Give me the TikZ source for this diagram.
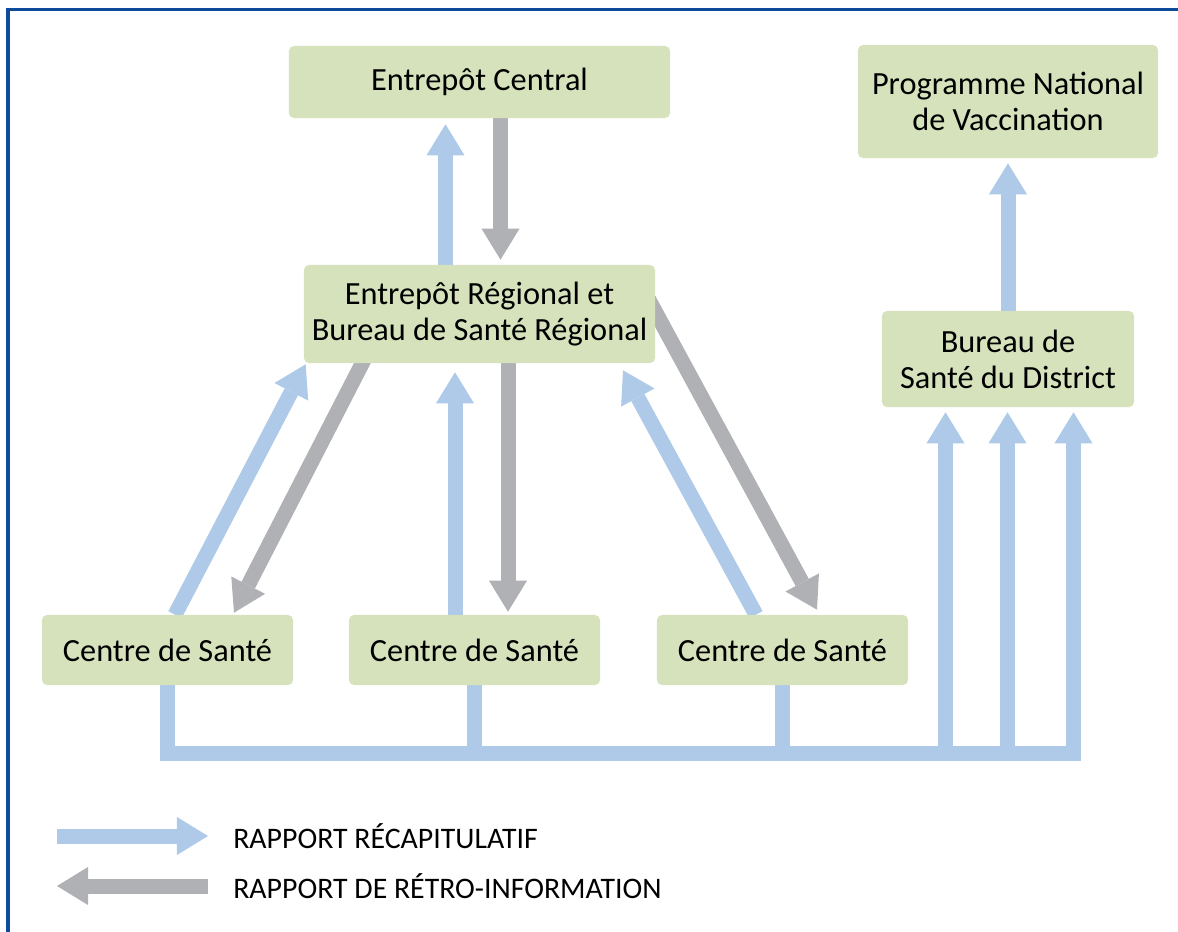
\documentclass[tikz,border=0pt]{standalone}
\usepackage{fontspec}
\setmainfont{Carlito}
\usepackage{tikz}
\usetikzlibrary{arrows.meta,calc,backgrounds}

\definecolor{boxgreen}{RGB}{213,226,188}
\definecolor{recapblue}{RGB}{174,202,232}
\definecolor{retrogray}{RGB}{176,177,181}
\definecolor{framenavy}{RGB}{14,76,155}

\tikzset{
  stagebox/.style={fill=boxgreen, rounded corners=3.6pt, align=center, inner sep=0pt,
    font=\fontsize{23}{25.6}\selectfont},
  legendtext/.style={anchor=west, inner sep=0pt, font=\fontsize{21.2}{24}\selectfont},
  recaparrow/.style={draw=recapblue, line width=0.375cm,
    -{Triangle[width=0.95cm,length=0.775cm,line width=0pt]}},
  retroarrow/.style={draw=retrogray, line width=0.375cm,
    -{Triangle[width=0.95cm,length=0.775cm,line width=0pt]}},
  recapline/.style={draw=recapblue, line width=0.375cm, line join=miter},
}

\begin{document}
\begin{tikzpicture}[x=0.025cm,y=-0.025cm]
\useasboundingbox (0,0) rectangle (1178,932);
\draw[framenavy, line width=0.075cm] (8,932) -- (8,10) -- (1178,10);

% boxes
\node[stagebox, minimum width=9.525cm, minimum height=1.8cm] (ec) at (479.5,82) {Entrepôt Central};
\node[stagebox, minimum width=7.5cm, minimum height=2.825cm] (pnv) at (1008,101.5) {Programme National\\de Vaccination};
\node[stagebox, minimum width=8.775cm, minimum height=2.45cm] (er) at (479.5,314) {Entrepôt Régional et\\Bureau de Santé Régional};
\node[stagebox, minimum width=6.3cm, minimum height=2.4cm] (bsd) at (1008,359) {Bureau de\\Santé du District};
\node[stagebox, minimum width=6.275cm, minimum height=1.75cm] (cs1) at (167.5,650) {Centre de Santé};
\node[stagebox, minimum width=6.275cm, minimum height=1.75cm] (cs2) at (474.5,650) {Centre de Santé};
\node[stagebox, minimum width=6.275cm, minimum height=1.75cm] (cs3) at (782.5,650) {Centre de Santé};

\coordinate (barL) at (166,753);
\coordinate (barR) at (1081,753);
\coordinate (d1) at (945.5,753);
\coordinate (d2) at (1007.5,753);
\coordinate (d3) at (1073.5,753);

\begin{scope}[on background layer]
  % central and regional
  \draw[recaparrow] ($(er.north)+(-34,0)$) -- ($(ec.south)+(-34,6)$);
  \draw[retroarrow] ($(ec.south)+(21,0)$) -- ($(er.north)+(21,-5)$);
  % regional and health centres
  \draw[recaparrow] ($(cs1.north)+(7.5,0)$) -- ($(er.south west)+(2,1)$);
  \draw[retroarrow] ($(er.south)+(-108.5,-17)$) -- ($(cs1.north)+(66.5,-2)$);
  \draw[recaparrow] ($(cs2.north)+(-19.5,0)$) -- ($(er.south)+(-24.5,9)$);
  \draw[retroarrow] ($(er.south)+(28.5,0)$) -- ($(cs2.north)+(33.5,-3)$);
  \draw[recaparrow] ($(cs3.north)+(-26.5,0)$) -- ($(er.south)+(143.5,7)$);
  \draw[retroarrow] ($(er.east)+(-15,-30)$) -- ($(cs3.north)+(34.5,-5)$);
  % district
  \draw[recapline] (cs1.south) |- (barR);
  \draw[recapline] (cs2.south) -- (cs2.south |- barL);
  \draw[recapline] (cs3.south) -- (cs3.south |- barL);
  \draw[recaparrow, shorten >=0.125cm] (d1) -- (d1 |- bsd.south);
  \draw[recaparrow, shorten >=0.125cm] (d2) -- (d2 |- bsd.south);
  \draw[recaparrow, shorten >=0.125cm] (d3) -- (d3 |- bsd.south);
  \draw[recaparrow, shorten >=0.125cm] (bsd.north) -- (pnv.south);
\end{scope}

% legend
\coordinate (keyA) at (57,836);
\coordinate (keyB) at (208,836);
\coordinate (keyC) at (208,886);
\coordinate (keyD) at (57,886);
\draw[recaparrow] (keyA) -- (keyB);
\draw[retroarrow] (keyC) -- (keyD);
\node[legendtext] (keysum) at (233,836) {RAPPORT RÉCAPITULATIF};
\node[legendtext] (keyretro) at (233,886) {RAPPORT DE RÉTRO-INFORMATION};
\end{tikzpicture}
\end{document}
